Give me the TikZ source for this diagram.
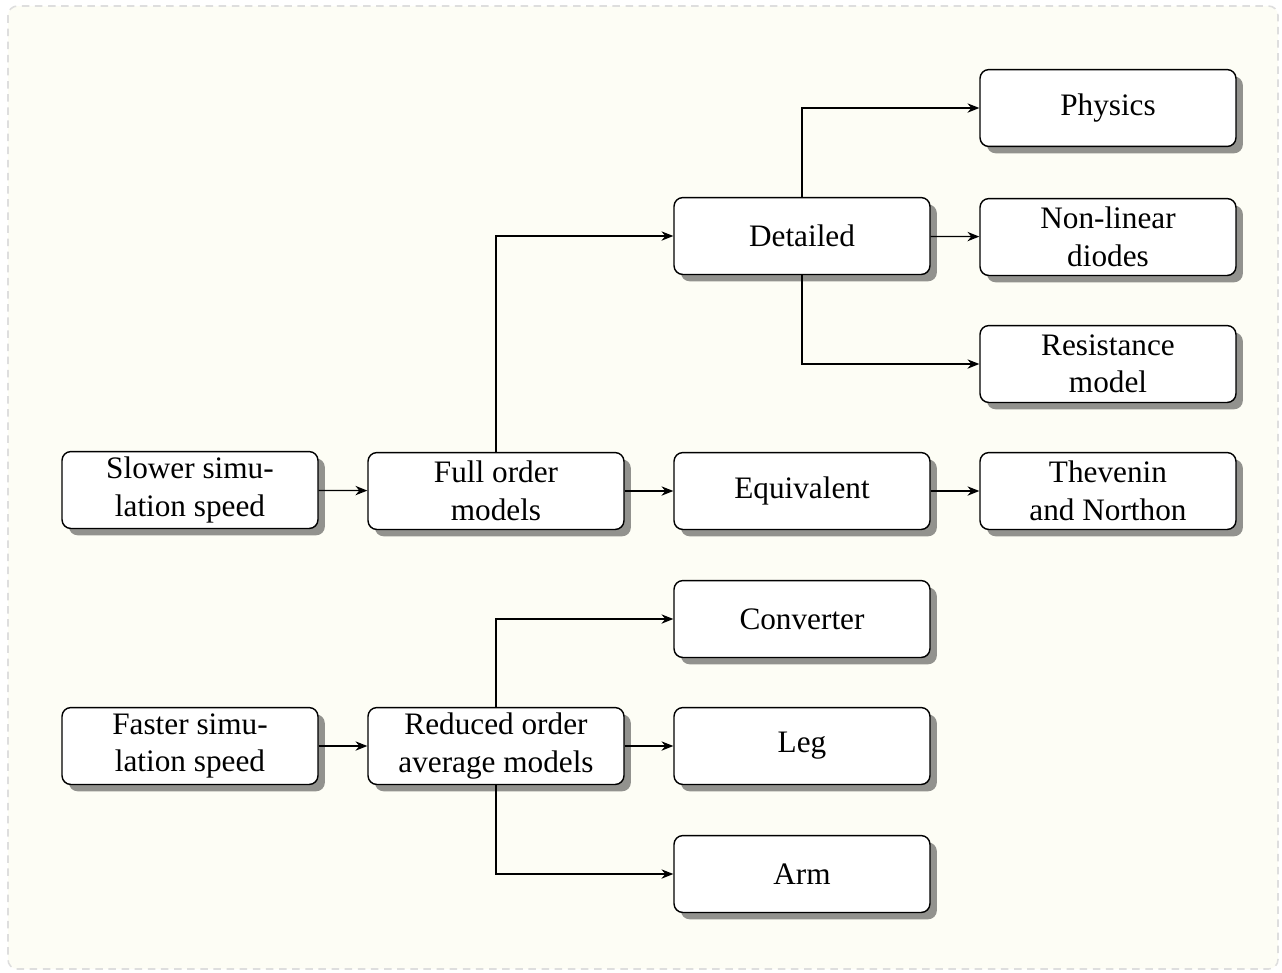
\documentclass[tikz,border=0pt]{standalone}
\usepackage{fontspec}
\setmainfont{Liberation Serif}
\usetikzlibrary{shadows,arrows.meta}
\definecolor{bgcream}{RGB}{253,253,245}
\definecolor{framegray}{RGB}{222,222,222}
\begin{document}
\begin{tikzpicture}[x=0.32pt,y=-0.32pt,
  box/.style={draw=black, line width=0.45pt, fill=white, rounded corners=2.8pt,
    minimum width=81.9pt, minimum height=24.6pt, inner xsep=2pt, inner ysep=1.5pt,
    align=center, font=\normalsize,
    drop shadow={shadow xshift=2.2pt, shadow yshift=-2.2pt, fill=black, opacity=0.42}},
  conn/.style={draw=black, line width=0.4pt, -{Stealth[length=3.8pt,width=3pt]}}]
\useasboundingbox (0,0) rectangle (1282,972);
\draw[fill=bgcream, draw=framegray, line width=0.5pt, dash pattern=on 2.4pt off 1.8pt, rounded corners=3pt] (8,6) rectangle (1278,969);

\node[box] (slow) at (190,490) {Slower simu-\\lation speed};
\node[box] (full) at (496,491) {Full order\\models};
\node[box] (det) at (802,236) {Detailed};
\node[box] (equ) at (802,491) {Equivalent};
\node[box] (phys) at (1108,108) {Physics};
\node[box] (nonlin) at (1108,237) {Non-linear\\diodes};
\node[box] (res) at (1108,364) {Resistance\\model};
\node[box] (thev) at (1108,491) {Thevenin\\and Northon};
\node[box] (fast) at (190,746) {Faster simu-\\lation speed};
\node[box] (red) at (496,746) {Reduced order\\average models};
\node[box] (conv) at (802,619) {Converter};
\node[box] (leg) at (802,746) {Leg};
\node[box] (arm) at (802,874) {Arm};

\draw[conn] (slow) -- (full);
\draw[conn] (full.north) |- (det.west);
\draw[conn] (full) -- (equ);
\draw[conn] (equ) -- (thev);
\draw[conn] (det.north) |- (phys.west);
\draw[conn] (det) -- (nonlin);
\draw[conn] (det.south) |- (res.west);
\draw[conn] (fast) -- (red);
\draw[conn] (red.north) |- (conv.west);
\draw[conn] (red) -- (leg);
\draw[conn] (red.south) |- (arm.west);
\end{tikzpicture}
\end{document}
